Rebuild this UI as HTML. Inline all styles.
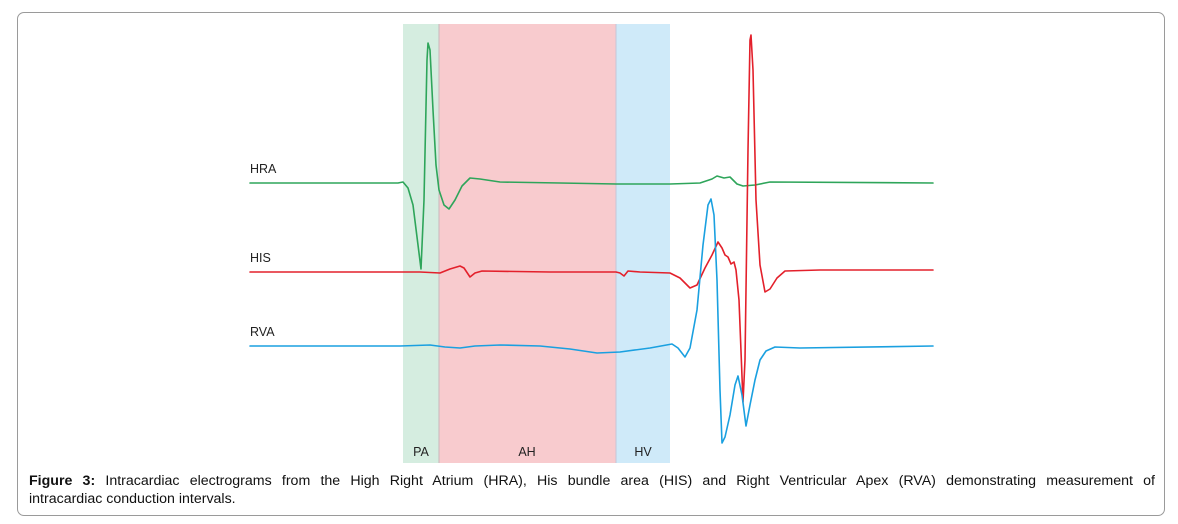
<!DOCTYPE html>
<html><head><meta charset="utf-8"><style>
html,body{margin:0;padding:0;background:#fff;width:1178px;height:524px;overflow:hidden}
.box{position:absolute;left:17px;top:12px;width:1148px;height:504px;border:1px solid #9a9a9a;border-radius:7px;box-sizing:border-box}
.cap{position:absolute;left:29px;width:1126px;font:14.2px "Liberation Sans",sans-serif;color:#111;line-height:18px;white-space:nowrap}
.l1{top:472px;text-align:justify;text-align-last:justify}
.l2{top:490px}
svg{position:absolute;left:0;top:0}
</style></head><body>
<div class="box"></div>
<svg width="1178" height="524" xmlns="http://www.w3.org/2000/svg">
<rect x="403" y="24" width="36" height="439" fill="#d5ede0"/>
<rect x="439" y="24" width="177" height="439" fill="#f8cbce"/>
<rect x="616" y="24" width="54" height="439" fill="#cfeaf9"/>
<line x1="439" y1="24" x2="439" y2="463" stroke="#c9b8bc" stroke-width="1"/>
<line x1="616" y1="24" x2="616" y2="463" stroke="#c6c6d6" stroke-width="1"/>
<g font-family="Liberation Sans, sans-serif" font-size="12.5" fill="#222">
<text x="250" y="173">HRA</text><text x="250" y="262">HIS</text><text x="250" y="336">RVA</text>
<text x="421" y="456" text-anchor="middle">PA</text>
<text x="527" y="456" text-anchor="middle">AH</text>
<text x="643" y="456" text-anchor="middle">HV</text>
</g>
<g fill="none" stroke-width="1.6" stroke-linejoin="round" stroke-linecap="round">
<polyline stroke="#2ea55a" points="250,183 398,183 403,182 408,188 413,205 418,245 421,269 424,200 427,60 428,43 430,50 433,110 436,165 439,190 444,205 449,209 455,200 462,186 470,178 480,179 500,182 560,183 616,184 670,184 700,183 712,179 717,176 724,178 730,177 737,184 743,186 755,185 770,182 933,183"/>
<polyline stroke="#e3202b" points="250,272 420,272 440,273 450,269 460,266 464,268 470,277 475,273 482,271 550,272 616,272 620,273 624,276 628,271 640,272 670,273 680,278 690,288 697,285 705,268 712,255 718,242 722,248 725,255 728,257 731,264 734,262 736,270 739,300 743,402 745,360 748,150 750,40 751,35 753,70 756,200 760,265 765,292 770,289 777,278 785,271 820,270 933,270"/>
<polyline stroke="#1aa0e0" points="250,346 400,346 430,345 445,347 460,348 475,346 500,345 540,346 570,349 597,353 620,352 650,348 672,344 678,348 685,357 690,348 697,310 703,245 708,205 711,199 714,215 717,280 720,390 722,443 725,437 730,415 735,385 738,376 742,395 746,426 750,405 755,380 760,360 766,351 775,347 800,348 933,346"/>
</g>
</svg>
<div class="cap l1"><b>Figure 3:</b> Intracardiac electrograms from the High Right Atrium (HRA), His bundle area (HIS) and Right Ventricular Apex (RVA) demonstrating measurement of</div>
<div class="cap l2">intracardiac conduction intervals.</div>
</body></html>
